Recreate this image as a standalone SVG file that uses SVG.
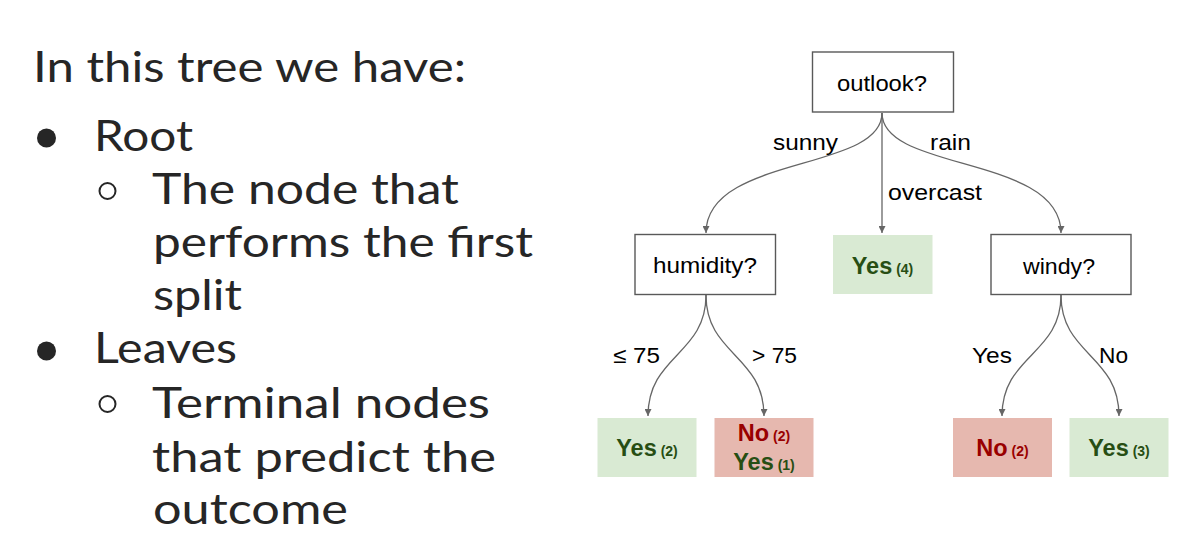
<svg xmlns="http://www.w3.org/2000/svg" width="1189" height="536" viewBox="0 0 1189 536">
<style>
.body{font-family:Lato,"Open Sans","Liberation Sans",sans-serif;font-size:43px;fill:#262626}
.box{fill:#ffffff;stroke:#595959;stroke-width:1.4}
.lbl{font-family:"Liberation Sans",Arial,sans-serif;font-size:22px;fill:#000000}
.edge{fill:none;stroke:#666666;stroke-width:1.3}
.gfill{fill:#d9ead3}
.rfill{fill:#e6b8af}
.big{font-family:"Liberation Sans",Arial,sans-serif;font-size:23.5px;font-weight:bold}
.sm{font-size:14px}
.g{fill:#274e13}
.r{fill:#990000}
</style>
<defs>
<marker id="arr" viewBox="0 0 10 10" refX="10" refY="5" markerWidth="7" markerHeight="7" markerUnits="userSpaceOnUse" orient="auto">
<path d="M0,0 L10,5 L0,10 z" fill="#666666"/>
</marker>
</defs>
<rect width="1189" height="536" fill="#ffffff"/>

<g id="bullet-text">
<text class="body" x="33" y="82" textLength="433" lengthAdjust="spacingAndGlyphs">In this tree we have:</text>
<circle cx="46.5" cy="138" r="9.5" fill="#262626"/>
<text class="body" x="94" y="151" textLength="99" lengthAdjust="spacingAndGlyphs">Root</text>
<circle cx="107.5" cy="191" r="8" fill="none" stroke="#262626" stroke-width="2"/>
<text class="body" x="152" y="204" textLength="307" lengthAdjust="spacingAndGlyphs">The node that</text>
<text class="body" x="153" y="257" textLength="380" lengthAdjust="spacingAndGlyphs">performs the first</text>
<text class="body" x="153" y="310" textLength="89" lengthAdjust="spacingAndGlyphs">split</text>
<circle cx="46.5" cy="351" r="9.5" fill="#262626"/>
<text class="body" x="94" y="363" textLength="143" lengthAdjust="spacingAndGlyphs">Leaves</text>
<circle cx="107.5" cy="404" r="8" fill="none" stroke="#262626" stroke-width="2"/>
<text class="body" x="152" y="418" textLength="338" lengthAdjust="spacingAndGlyphs">Terminal nodes</text>
<text class="body" x="152" y="472" textLength="344" lengthAdjust="spacingAndGlyphs">that predict the</text>
<text class="body" x="153" y="524" textLength="195" lengthAdjust="spacingAndGlyphs">outcome</text>
</g>

<g id="connectors">
<path class="edge" d="M882,113 C882,172 706,155 706,233" marker-end="url(#arr)"/>
<path class="edge" d="M882,113 L882,233" marker-end="url(#arr)"/>
<path class="edge" d="M882,113 C882,172 1061,155 1061,233" marker-end="url(#arr)"/>
<path class="edge" d="M706,295 C706,355 648,355 648,416" marker-end="url(#arr)"/>
<path class="edge" d="M706,295 C706,355 764,355 764,416" marker-end="url(#arr)"/>
<path class="edge" d="M1061,295 C1061,355 1002,355 1002,416" marker-end="url(#arr)"/>
<path class="edge" d="M1061,295 C1061,355 1119,355 1119,416" marker-end="url(#arr)"/>
<text class="lbl" x="773" y="150" textLength="65" lengthAdjust="spacingAndGlyphs">sunny</text>
<text class="lbl" x="930" y="150" textLength="41" lengthAdjust="spacingAndGlyphs">rain</text>
<text class="lbl" x="888" y="200" textLength="94" lengthAdjust="spacingAndGlyphs">overcast</text>
<text class="lbl" x="613" y="363" textLength="47" lengthAdjust="spacingAndGlyphs">≤ 75</text>
<text class="lbl" x="752" y="363" textLength="45" lengthAdjust="spacingAndGlyphs">&gt; 75</text>
<text class="lbl" x="972" y="363" textLength="40" lengthAdjust="spacingAndGlyphs">Yes</text>
<text class="lbl" x="1099" y="363" textLength="29" lengthAdjust="spacingAndGlyphs">No</text>
</g>

<g id="node-outlook">
<rect class="box" x="812.5" y="52" width="141" height="60"/>
<text class="lbl" x="837" y="91" textLength="90" lengthAdjust="spacingAndGlyphs">outlook?</text>
</g>
<g id="node-humidity">
<rect class="box" x="635" y="234.5" width="140.5" height="60"/>
<text class="lbl" x="653" y="273" textLength="104" lengthAdjust="spacingAndGlyphs">humidity?</text>
</g>
<g id="node-yes4">
<rect class="gfill" x="833" y="235" width="99.5" height="59"/>
<text class="big g" x="882.5" y="274" text-anchor="middle">Yes<tspan class="sm"> (4)</tspan></text>
</g>
<g id="node-windy">
<rect class="box" x="991" y="234.5" width="140" height="60"/>
<text class="lbl" x="1023" y="274" textLength="72" lengthAdjust="spacingAndGlyphs">windy?</text>
</g>
<g id="node-yes2">
<rect class="gfill" x="597.5" y="418" width="99" height="59"/>
<text class="big g" x="647" y="456" text-anchor="middle">Yes<tspan class="sm"> (2)</tspan></text>
</g>
<g id="node-no2yes1">
<rect class="rfill" x="714.5" y="418" width="99" height="59"/>
<text class="big r" x="764" y="441" text-anchor="middle">No<tspan class="sm"> (2)</tspan></text>
<text class="big g" x="764" y="470" text-anchor="middle">Yes<tspan class="sm"> (1)</tspan></text>
</g>
<g id="node-no2">
<rect class="rfill" x="953" y="418" width="99" height="59"/>
<text class="big r" x="1002.5" y="456" text-anchor="middle">No<tspan class="sm"> (2)</tspan></text>
</g>
<g id="node-yes3">
<rect class="gfill" x="1069.5" y="418" width="99" height="59"/>
<text class="big g" x="1119" y="456" text-anchor="middle">Yes<tspan class="sm"> (3)</tspan></text>
</g>
</svg>
